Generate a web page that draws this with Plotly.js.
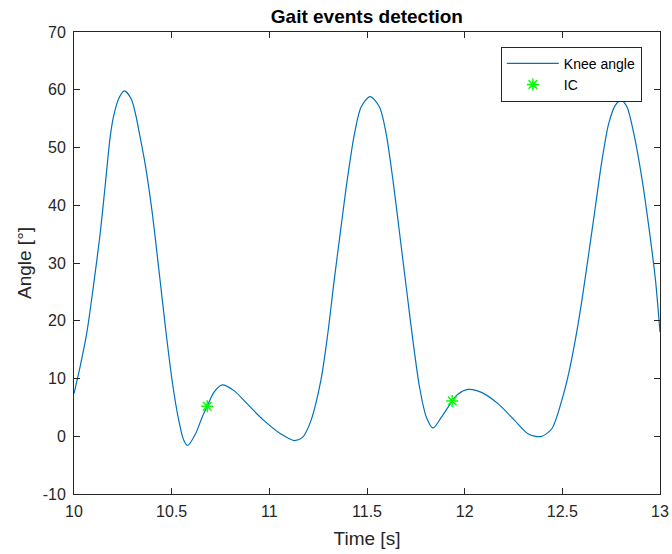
<!DOCTYPE html>
<html>
<head>
<meta charset="utf-8">
<script src="https://cdn.plot.ly/plotly-3.0.1.min.js"></script>
<style>html,body{margin:0;padding:0;background:#fff;}#chart{width:672px;height:554px;}</style>
</head>
<body>
<div id="chart"></div>
<script>
var time = [10.000,10.031,10.065,10.099,10.134,10.159,10.185,10.202,10.228,10.258,10.293,10.317,10.334,10.365,10.399,10.433,10.468,10.502,10.536,10.562,10.582,10.622,10.656,10.682,10.716,10.759,10.819,10.887,10.973,11.059,11.127,11.170,11.213,11.264,11.299,11.332,11.367,11.401,11.436,11.470,11.516,11.564,11.598,11.633,11.667,11.701,11.735,11.769,11.804,11.838,11.881,11.936,11.967,12.018,12.086,12.172,12.257,12.326,12.390,12.446,12.497,12.532,12.566,12.600,12.635,12.669,12.703,12.737,12.771,12.801,12.831,12.866,12.909,12.943,12.977,13.000];
var angle = [7.4,12.0,17.8,25.9,35.1,43.2,51.8,55.3,58.4,59.8,58.4,55.5,52.6,47.0,39.1,29.3,18.9,9.7,2.8,-0.7,-1.6,0.4,3.3,5.2,7.6,8.9,7.9,5.6,2.7,0.4,-0.75,-0.2,2.7,9.7,17.7,27.0,36.2,44.9,52.4,57.0,58.8,57.0,52.4,44.3,35.1,25.8,16.6,8.5,3.3,1.45,3.3,6.1,7.3,8.1,7.6,5.6,2.7,0.4,-0.05,1.3,6.2,10.8,16.6,23.5,31.6,39.7,47.8,54.1,57.3,58.2,57.0,52.4,44.3,36.2,27.0,18.0];
var icTime = [10.682, 11.936];
var icAngle = [5.2, 6.1];
var xTicks = [10,10.5,11,11.5,12,12.5,13];
var xTickText = ['10','10.5','11','11.5','12','12.5','13'];
var yTicks = [-10,0,10,20,30,40,50,60,70];
var yTickText = ['-10','0','10','20','30','40','50','60','70'];

var axisColor = '#262626';
var traces = [
  {x: time, y: angle, type: 'scatter', mode: 'lines', name: 'Knee angle',
   line: {color: '#0072BD', width: 1.2, shape: 'spline', smoothing: 0.8}},
  {x: icTime, y: icAngle, type: 'scatter', mode: 'markers', name: 'IC',
   marker: {symbol: 'asterisk-open', size: 10, color: '#00FF00', line: {color: '#00FF00', width: 1.5}}}
];
var layout = {
  width: 672, height: 554,
  margin: {l: 74, r: 12, t: 32, b: 60, pad: 0},
  paper_bgcolor: '#fff', plot_bgcolor: '#fff',
  font: {family: 'Liberation Sans, Arial, sans-serif', color: axisColor, size: 16},
  title: {text: '<b>Gait events detection</b>', x: 0.546, xanchor: 'center', y: 0.97, yanchor: 'middle',
          font: {size: 19, color: '#000'}},
  showlegend: true,
  legend: {x: 0.969, y: 0.968, xanchor: 'right', yanchor: 'top', bgcolor: '#fff',
           bordercolor: '#262626', borderwidth: 1, font: {size: 14, color: '#000'},
           tracegroupgap: 0, itemwidth: 52},
  xaxis: {range: [10, 13], tickvals: xTicks, ticktext: xTickText, ticks: 'inside', ticklen: 6,
          tickcolor: axisColor, showline: true, linecolor: axisColor, linewidth: 1, mirror: 'ticks',
          showgrid: false, zeroline: false, tickfont: {size: 16, color: axisColor}, ticklabelstandoff: 3,
          title: {text: 'Time [s]', font: {size: 19, color: axisColor}, standoff: 12}},
  yaxis: {range: [-10, 70], tickvals: yTicks, ticktext: yTickText, ticks: 'inside', ticklen: 6,
          tickcolor: axisColor, showline: true, linecolor: axisColor, linewidth: 1, mirror: 'ticks',
          showgrid: false, zeroline: false, tickfont: {size: 16, color: axisColor}, ticklabelstandoff: 4,
          title: {text: 'Angle [°]', font: {size: 19, color: axisColor}, standoff: 6}}
};
Plotly.newPlot('chart', traces, layout, {displayModeBar: false, staticPlot: true});
</script>
</body>
</html>
